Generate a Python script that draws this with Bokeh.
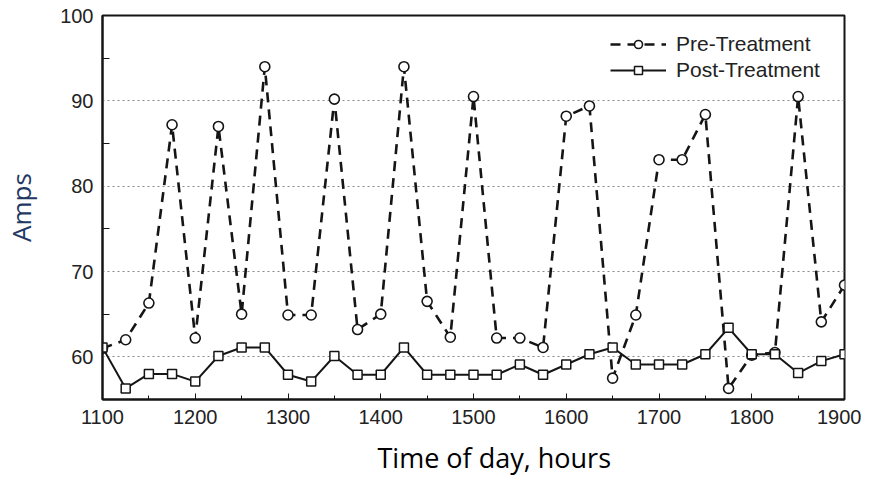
from bokeh.plotting import figure
from bokeh.models import FixedTicker, Range1d, Legend, LegendItem, Title, ColumnDataSource
from bokeh.embed import file_html
from bokeh.resources import INLINE

# ---- data ----
hours = [1100, 1125, 1150, 1175, 1200, 1225, 1250, 1275, 1300, 1325, 1350,
         1375, 1400, 1425, 1450, 1475, 1500, 1525, 1550, 1575, 1600, 1625,
         1650, 1675, 1700, 1725, 1750, 1775, 1800, 1825, 1850, 1875, 1900]
pre_treatment = [61.0, 62.0, 66.3, 87.2, 62.2, 87.0, 65.0, 94.0, 64.9, 64.9, 90.2,
                 63.2, 65.0, 94.0, 66.5, 62.3, 90.5, 62.2, 62.2, 61.1, 88.2, 89.4,
                 57.5, 64.9, 83.1, 83.1, 88.4, 56.3, 60.2, 60.5, 90.5, 64.1, 68.4]
post_treatment = [61.1, 56.3, 58.0, 58.0, 57.1, 60.1, 61.1, 61.1, 57.9, 57.1, 60.1,
                  57.9, 57.9, 61.1, 57.9, 57.9, 57.9, 57.9, 59.1, 57.9, 59.1, 60.3,
                  61.1, 59.1, 59.1, 59.1, 60.3, 63.4, 60.3, 60.3, 58.1, 59.5, 60.3]
x_ticks = [1100, 1200, 1300, 1400, 1500, 1600, 1700, 1800, 1900]
x_minor = [1150, 1250, 1350, 1450, 1550, 1650, 1750, 1850]
y_ticks = [60, 70, 80, 90, 100]
y_minor = [55, 65, 75, 85, 95]
grid_levels = [60, 70, 80, 90]
series_names = ["Pre-Treatment", "Post-Treatment"]
x_title = "Time of day, hours"
y_title = "Amps"

src = ColumnDataSource(data=dict(h=hours, pre=pre_treatment, post=post_treatment))

INK = "#151515"

p = figure(width=861, height=487, output_backend="svg", toolbar_location=None,
           x_range=Range1d(1100, 1900), y_range=Range1d(55, 100),
           min_border_left=95, min_border_right=17, min_border_top=15,
           min_border_bottom=88)

p.background_fill_color = "white"
p.border_fill_color = "white"
p.outline_line_color = INK
p.outline_line_width = 2
p.outline_line_alpha = 1

# axes
for ax in (p.xaxis, p.yaxis):
    ax.axis_line_color = INK
    ax.axis_line_width = 2
    ax.major_tick_line_color = INK
    ax.minor_tick_line_color = INK
    ax.major_tick_out = 0
    ax.minor_tick_out = 0
    ax.major_label_text_font = "Liberation Sans"
    ax.major_label_text_font_size = "20px"
    ax.major_label_text_color = "#222222"

p.xaxis.ticker = FixedTicker(ticks=x_ticks, minor_ticks=x_minor)
p.xaxis.major_tick_in = 6
p.xaxis.minor_tick_in = 4
p.xaxis.major_label_standoff = 10

p.yaxis.ticker = FixedTicker(ticks=y_ticks, minor_ticks=y_minor)
p.yaxis.major_tick_in = 0
p.yaxis.minor_tick_in = 7
p.yaxis.major_label_standoff = 9
p.yaxis.axis_label = y_title
p.yaxis.axis_label_text_font = "Open Sans"
p.yaxis.axis_label_text_font_size = "26px"
p.yaxis.axis_label_text_font_style = "normal"
p.yaxis.axis_label_text_color = "#1F3864"
p.yaxis.axis_label_standoff = 18

# grid
p.xgrid.visible = False
p.ygrid.ticker = FixedTicker(ticks=grid_levels)
p.ygrid.grid_line_color = "#8a8a8a"
p.ygrid.grid_line_dash = "2 3"
p.ygrid.grid_line_width = 1

# series
pre_line = p.line("h", "pre", source=src, line_color=INK, line_width=2.6, line_dash="10 7")
pre_pts = p.scatter("h", "pre", source=src, marker="circle", size=10,
                    fill_color="white", line_color=INK, line_width=1.6)
post_line = p.line("h", "post", source=src, line_color=INK, line_width=2)
post_pts = p.scatter("h", "post", source=src, marker="square", size=9,
                     fill_color="white", line_color=INK, line_width=1.5)

legend = Legend(items=[LegendItem(label=series_names[0], renderers=[pre_line, pre_pts]),
                       LegendItem(label=series_names[1], renderers=[post_line, post_pts])],
                location=(508, 317), glyph_width=56, glyph_height=20, label_standoff=10,
                padding=0, spacing=2, margin=0,
                label_text_font="Liberation Sans", label_text_font_size="21px",
                label_text_color="#222222",
                border_line_alpha=0, background_fill_alpha=0)
p.add_layout(legend)

p.add_layout(Title(text=x_title, align="left", offset=275, standoff=21,
                   text_font="Open Sans", text_font_size="27px",
                   text_font_style="normal", text_color="black"), "below")

open("out.html", "w").write(file_html(p, INLINE))
